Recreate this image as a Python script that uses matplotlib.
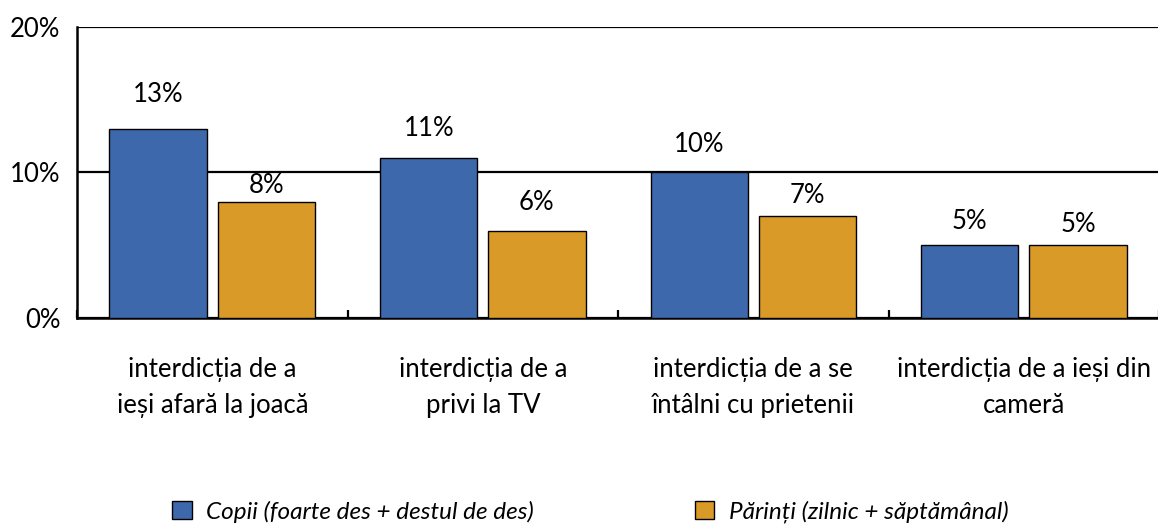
import numpy as np
import matplotlib.pyplot as plt
from matplotlib.ticker import FixedLocator, PercentFormatter

plt.rcParams['font.family'] = ['Lato', 'DejaVu Sans']

categories = ['interdicția de a\nieși afară la joacă',
              'interdicția de a\nprivi la TV',
              'interdicția de a se\nîntâlni cu prietenii',
              'interdicția de a ieși din\ncameră']
copii = [13, 11, 10, 5]
parinti = [8, 6, 7, 5]
series_names = ['Copii (foarte des + destul de des)',
                'Părinți (zilnic + săptămânal)']

blue = '#3D69AC'
orange = '#DA9A27'
fs = 18.5

fig = plt.figure(figsize=(11.58, 5.25), dpi=100)
ax = fig.add_axes([0.0665, 0.3943, 0.9345, 0.5543])

x = np.arange(len(categories))
w = 0.36
b1 = ax.bar(x - 0.2, copii, w, color=blue, edgecolor='black', linewidth=1.0,
            label=series_names[0], zorder=3)
b2 = ax.bar(x + 0.2, parinti, w, color=orange, edgecolor='black', linewidth=1.0,
            label=series_names[1], zorder=3)

# label offsets in points (text centre above bar top)
off1 = [25, 21, 20, 17]
off2 = [11.5, 20, 15, 15]
for rect, v, o in zip(b1, copii, off1):
    ax.annotate(f'{v}%', (rect.get_x() + rect.get_width() / 2, v),
                xytext=(0, o), textcoords='offset points',
                ha='center', va='center', fontsize=fs)
for rect, v, o in zip(b2, parinti, off2):
    ax.annotate(f'{v}%', (rect.get_x() + rect.get_width() / 2, v),
                xytext=(0, o), textcoords='offset points',
                ha='center', va='center', fontsize=fs)

ax.set_xlim(-0.5, len(categories) - 0.5)
ax.set_ylim(0, 20)
ax.set_yticks([0, 10, 20])
ax.yaxis.set_major_formatter(PercentFormatter(decimals=0))
ax.tick_params(axis='y', length=0, pad=12, labelsize=fs)
ax.yaxis.grid(True, color='black', linewidth=1.6, zorder=0)

ax.xaxis.set_major_locator(FixedLocator(np.arange(-0.5, len(categories), 1.0)))
ax.xaxis.set_minor_locator(FixedLocator(x))
ax.set_xticklabels([])
ax.set_xticklabels(categories, minor=True, fontsize=fs, linespacing=1.55)
ax.tick_params(axis='x', which='major', direction='in', length=6, width=1.6)
ax.tick_params(axis='x', which='minor', length=0, pad=28)

for s in ['top', 'right']:
    ax.spines[s].set_visible(False)
for s in ['left', 'bottom']:
    ax.spines[s].set_linewidth(1.8)

leg = fig.legend(handles=[b1, b2], loc='lower left', bbox_to_anchor=(0.13, -0.038),
                 ncol=2, frameon=False, columnspacing=6.6, handlelength=0.8,
                 handleheight=0.8, handletextpad=0.6,
                 prop={'style': 'italic', 'size': 17.5})

fig.savefig('out.png', dpi=100)
